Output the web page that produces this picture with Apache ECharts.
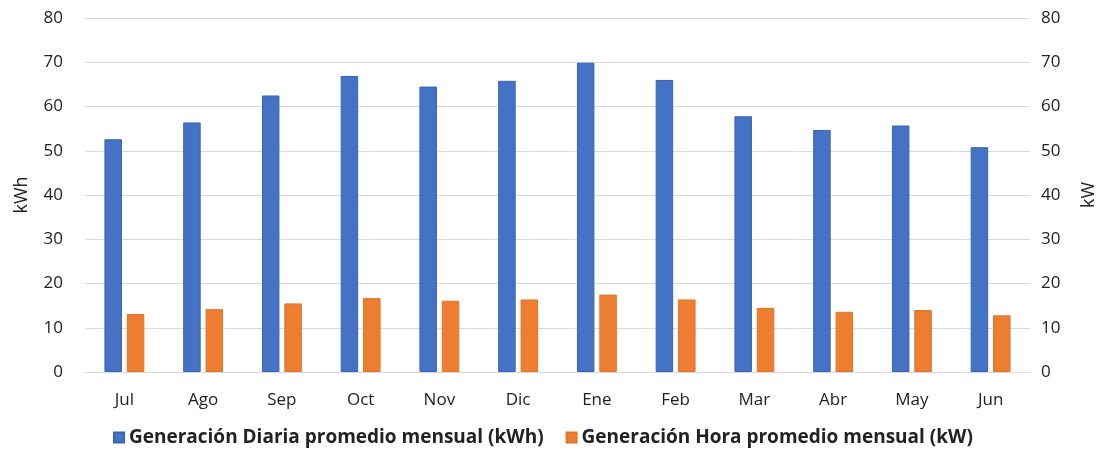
<!DOCTYPE html>
<html>
<head>
<meta charset="utf-8">
<script src="https://cdn.jsdelivr.net/npm/echarts@6/dist/echarts.min.js"></script>
<style>
html,body{margin:0;padding:0;background:#fff;}
#chart{width:1104px;height:455px;}
</style>
</head>
<body>
<div id="chart"></div>
<script>
var categories = ['Jul','Ago','Sep','Oct','Nov','Dic','Ene','Feb','Mar','Abr','May','Jun'];
var diaria = [52.6, 56.4, 62.5, 66.9, 64.5, 65.8, 69.9, 66.0, 57.8, 54.7, 55.7, 50.8];
var hora = [13.1, 14.2, 15.5, 16.7, 16.1, 16.4, 17.5, 16.4, 14.5, 13.6, 14.0, 12.8];
var yTicks = [0, 10, 20, 30, 40, 50, 60, 70, 80];

var font = '"Open Sans", sans-serif';
var chart = echarts.init(document.getElementById('chart'));
chart.setOption({
  animation: false,
  backgroundColor: '#ffffff',
  grid: {left: 85, right: 74, top: 18, bottom: 83, containLabel: false, outerBoundsMode: 'none'},
  legend: {
    bottom: 3,
    left: 108,
    itemWidth: 10,
    itemHeight: 10,
    itemGap: 22,
    icon: 'rect',
    textStyle: {fontFamily: font, fontSize: 19, fontWeight: 'bold', color: '#222'},
    data: ['Generación Diaria promedio mensual (kWh)', 'Generación Hora promedio mensual (kW)']
  },
  xAxis: {
    type: 'category',
    data: categories,
    axisLine: {lineStyle: {color: '#d9d9d9'}},
    axisTick: {show: false},
    axisLabel: {fontFamily: font, fontSize: 17, color: '#222', margin: 20}
  },
  yAxis: [{
    type: 'value',
    min: yTicks[0], max: yTicks[yTicks.length - 1], interval: 10,
    name: 'kWh', nameLocation: 'middle', nameRotate: 90, nameGap: 54,
    nameTextStyle: {fontFamily: font, fontSize: 18, color: '#222'},
    axisLine: {show: false}, axisTick: {show: false},
    axisLabel: {fontFamily: font, fontSize: 17, color: '#222', margin: 22},
    splitLine: {lineStyle: {color: '#d9d9d9'}}
  }, {
    type: 'value',
    min: yTicks[0], max: yTicks[yTicks.length - 1], interval: 10,
    name: 'kW', nameLocation: 'middle', nameRotate: 90, nameGap: 50,
    nameTextStyle: {fontFamily: font, fontSize: 18, color: '#222'},
    axisLine: {show: false}, axisTick: {show: false},
    axisLabel: {fontFamily: font, fontSize: 17, color: '#222', margin: 11},
    splitLine: {show: false}
  }],
  series: [{
    name: 'Generación Diaria promedio mensual (kWh)',
    type: 'bar',
    yAxisIndex: 0,
    data: diaria,
    barWidth: 17.5,
    barGap: '28%',
    itemStyle: {color: '#4472C4', borderColor: '#3a64b0', borderWidth: 1}
  }, {
    name: 'Generación Hora promedio mensual (kW)',
    type: 'bar',
    yAxisIndex: 1,
    data: hora,
    barWidth: 17.5,
    barGap: '28%',
    itemStyle: {color: '#ED7D31', borderColor: '#e0742a', borderWidth: 1}
  }]
});
</script>
</body>
</html>
